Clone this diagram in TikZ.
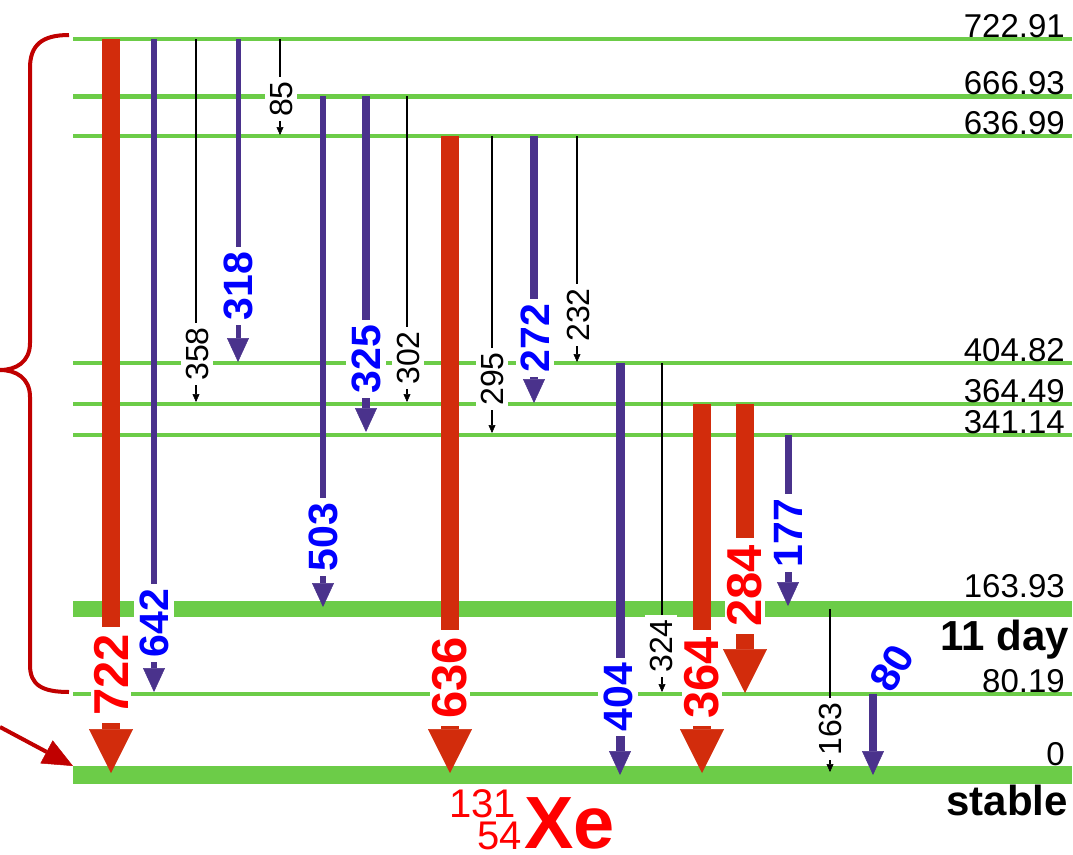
\documentclass[tikz,border=0pt]{standalone}
\usepackage{fontspec}
\setmainfont{Liberation Sans}
\usetikzlibrary{arrows.meta}
\definecolor{lvlc}{RGB}{108,204,72}
\definecolor{rbar}{RGB}{210,44,12}
\definecolor{purc}{RGB}{74,50,140}
\definecolor{blabc}{RGB}{0,0,255}
\definecolor{rlabc}{RGB}{255,0,0}
\definecolor{bracec}{RGB}{192,0,0}
\tikzset{
  lvlab/.style={anchor=base east, inner sep=0pt, font=\fontsize{33bp}{33bp}\selectfont},
  bigtxt/.style={anchor=base east, inner sep=0pt, font=\fontsize{42bp}{42bp}\selectfont\bfseries},
  rarr/.style={draw=rbar, line width=18bp, -{Triangle[width=44bp,length=44bp,line width=0.5bp]}},
  parr/.style={draw=purc, -{Triangle[width=22bp,length=24bp,line width=0.5bp]}},
  karr/.style={draw=black, line width=2bp, -{Triangle[width=7bp,length=8bp,line width=0.5bp]}},
  lab/.style={rotate=90, fill=white},
  rlab/.style={lab, text=rlabc, inner xsep=7bp, inner ysep=3bp, font=\fontsize{49bp}{49bp}\selectfont\bfseries},
  blab/.style={lab, text=blabc, inner xsep=5bp, inner ysep=5bp, font=\fontsize{41bp}{41bp}\selectfont\bfseries},
  klab/.style={lab, text=black, inner xsep=4bp, inner ysep=5bp, font=\fontsize{32bp}{32bp}\selectfont},
  brc/.style={draw=bracec, line width=4bp},
  ptr/.style={draw=bracec, line width=4bp, -{Triangle[width=26bp,length=30bp,line width=0.5bp]}},
  xebig/.style={inner sep=0pt, text=rlabc, font=\fontsize{74bp}{74bp}\selectfont\bfseries},
  xesmall/.style={inner sep=0pt, text=rlabc, font=\fontsize{40bp}{40bp}\selectfont},
}
\newcommand\lev[5]{%
  \coordinate (#1a) at (73,#2); \coordinate (#1b) at (1072,#2);
  \draw[draw=lvlc, line width=#3] (#1a) -- (#1b);
  \node[lvlab] (#1t) at (1065,#5) {#4};}
\newcommand\tra[5]{%
  \coordinate (#1s) at (#3,#4); \coordinate (#1e) at (#3,#5);
  \draw[#2] (#1s) -- (#1e);}
\begin{document}
\begin{tikzpicture}[x=1bp,y=-1bp]
\useasboundingbox (0,0) rectangle (1073,855);
% levels
\lev{L722}{39}{4bp}{722.91}{37}
\lev{L666}{96}{5bp}{666.93}{94}
\lev{L636}{136}{4bp}{636.99}{134}
\lev{L404}{363}{4bp}{404.82}{361}
\lev{L364}{404}{4bp}{364.49}{402}
\lev{L341}{435}{4bp}{341.14}{433}
\lev{L163}{609}{16bp}{163.93}{597}
\lev{L80}{694}{4bp}{80.19}{692}
\lev{L0}{775}{18bp}{0}{765}
\node[bigtxt] (half) at (1069,650) {11 day};
\node[bigtxt] (stab) at (1068,815) {stable};
% red transitions
\tra{r722}{rarr}{111}{39}{773}
\tra{r636}{rarr}{450}{136}{773}
\tra{r364}{rarr}{702}{404}{773}
\tra{r284}{rarr}{745}{404}{693}
% purple transitions
\tra{p642}{parr, line width=5.5bp}{154}{39}{692}
\tra{p318}{parr, line width=5bp}{238}{39}{362}
\tra{p503}{parr, line width=6bp}{323}{96}{607}
\tra{p325}{parr, line width=8bp}{366}{96}{432}
\tra{p272}{parr, line width=8bp}{534}{136}{403}
\tra{p404}{parr, line width=9bp}{620}{363}{775}
\tra{p177}{parr, line width=7bp}{788}{435}{606}
\tra{p80}{parr, line width=8bp}{873}{694}{775}
% black transitions
\tra{k358}{karr}{196}{39}{402}
\tra{k85}{karr}{280}{39}{135}
\tra{k302}{karr}{407}{96}{402}
\tra{k295}{karr}{492}{136}{433}
\tra{k232}{karr}{577}{136}{362}
\tra{k324}{karr}{662}{363}{692}
\tra{k163}{karr}{830}{609}{772}
% labels
\node[rlab] (t722) at (111,675) {722};
\node[rlab] (t636) at (450,678) {636};
\node[rlab] (t364) at (702,678) {364};
\node[rlab] (t284) at (745,586) {284};
\node[blab] (t642) at (154,623) {642};
\node[blab] (t318) at (238,286) {318};
\node[blab] (t503) at (323,537) {503};
\node[blab] (t325) at (366,359) {325};
\node[blab] (t272) at (535,338) {272};
\node[blab] (t404) at (618,697) {404};
\node[blab] (t177) at (788,533) {177};
\node[blab, fill=none, rotate=-30] (t80) at (892,668) {80};
\node[klab] (t358) at (197,354) {358};
\node[klab] (t85) at (281,99) {85};
\node[klab] (t302) at (408,358) {302};
\node[klab] (t295) at (492,379) {295};
\node[klab] (t232) at (578,315) {232};
\node[klab] (t324) at (661,646) {324};
\node[klab] (t163) at (830,729) {163};
% nuclide
\node[xebig, anchor=base west] (xe) at (524,848) {Xe};
\node[xesmall, anchor=base east] (xea) at (516,817) {131};
\node[xesmall, anchor=base east] (xez) at (522,849) {54};
% brace and pointer
\draw[brc] (69,35) .. controls (42,35) and (30,45) .. (30,68) -- (30,343)
  .. controls (30,362) and (16,370) .. (0,370)
  .. controls (16,370) and (30,378) .. (30,397) -- (30,665)
  .. controls (30,685) and (42,692) .. (69,692);
\coordinate (ptrs) at (0,727);
\coordinate (ptre) at (73,766);
\draw[ptr] (ptrs) -- (ptre);
\end{tikzpicture}
\end{document}
